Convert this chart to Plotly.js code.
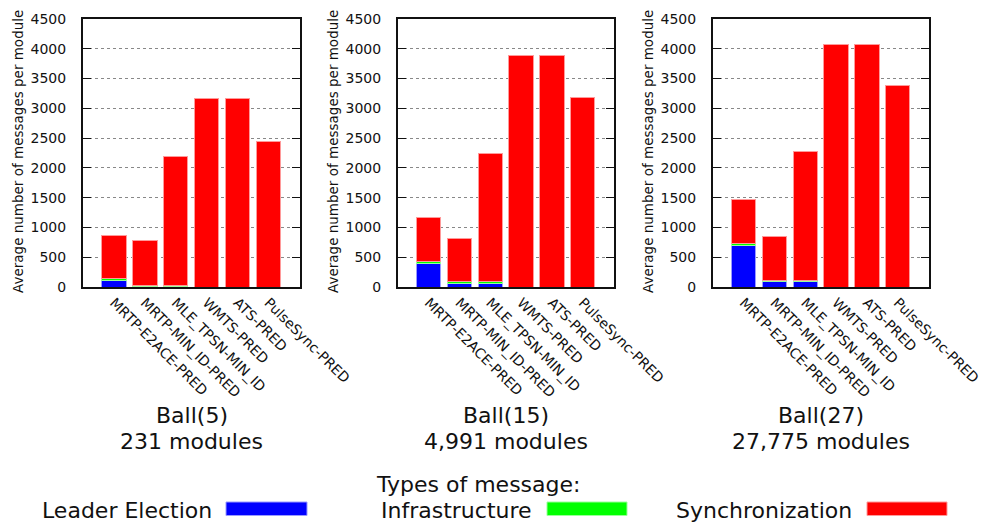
<!DOCTYPE html>
<html>
<head>
<meta charset="utf-8">
<script src="https://cdn.plot.ly/plotly-3.0.1.min.js"></script>
<style>
  html, body { margin: 0; padding: 0; background: #fff; }
  #chart { width: 983px; height: 526px; }
</style>
</head>
<body>
<div id="chart"></div>
<script>
// Protocols compared in every panel
const protocols = ["MRTP-E2ACE-PRED", "MRTP-MIN_ID-PRED", "MLE_TPSN-MIN_ID",
                   "WMTS-PRED", "ATS-PRED", "PulseSync-PRED"];

// Panel headings: topology and size
const ballNames = ["Ball(5)", "Ball(15)", "Ball(27)"];
const moduleCounts = ["231 modules", "4,991 modules", "27,775 modules"];

// Average number of messages per module, split by message type
const leaderBall5  = [117, 10, 10, 0, 0, 0];
const infraBall5   = [20, 12, 12, 0, 0, 0];
const syncBall5    = [728, 754, 2170, 3157, 3157, 2445];

const leaderBall15 = [395, 67, 67, 0, 0, 0];
const infraBall15  = [25, 20, 20, 0, 0, 0];
const syncBall15   = [747, 733, 2159, 3883, 3883, 3184];

const leaderBall27 = [700, 88, 88, 0, 0, 0];
const infraBall27  = [30, 22, 22, 0, 0, 0];
const syncBall27   = [743, 732, 2158, 4067, 4067, 3376];

const messageTypes = ["Leader Election", "Infrastructure", "Synchronization"];
const yTicks = [0, 500, 1000, 1500, 2000, 2500, 3000, 3500, 4000, 4500];

const W = 983, H = 526;
const FONT = "DejaVu Sans";
const TEXT = "#111";
const colors = ["#0000ff", "#00ff00", "#ff0000"];
const edges = ["#9a9aff", "#9aff9a", "#ff9a9a"];

const panels = [
  [leaderBall5, infraBall5, syncBall5],
  [leaderBall15, infraBall15, syncBall15],
  [leaderBall27, infraBall27, syncBall27]
];

// Pixel boxes of each plot area
const boxes = [[83, 300], [398, 614], [713, 929]];
const plotTop = 19, plotBottom = 287;

const px = v => v / W;
const py = v => 1 - v / H;

const traces = [];
panels.forEach((series, p) => {
  const sfx = p === 0 ? "" : String(p + 1);
  series.forEach((vals, s) => {
    traces.push({
      type: "bar",
      x: protocols,
      y: vals,
      name: messageTypes[s],
      xaxis: "x" + sfx,
      yaxis: "y" + sfx,
      width: 0.79,
      marker: { color: colors[s], line: { color: edges[s], width: 1 } },
      showlegend: false,
      hoverinfo: "x+y+name"
    });
  });
});

const layout = {
  width: W, height: H,
  margin: { l: 0, r: 0, t: 0, b: 0 },
  paper_bgcolor: "#fff",
  plot_bgcolor: "#fff",
  barmode: "stack",
  font: { family: FONT, color: TEXT, size: 14 },
  annotations: [],
  shapes: []
};

boxes.forEach((b, p) => {
  const sfx = p === 0 ? "" : String(p + 1);
  layout["xaxis" + sfx] = {
    domain: [px(b[0]), px(b[1])],
    anchor: "y" + sfx,
    type: "category",
    range: [-1, 6.02],
    showline: true, linecolor: "#111", linewidth: 2, mirror: true,
    ticks: "", showgrid: false, zeroline: false,
    tickangle: 45,
    tickfont: { family: FONT, size: 14, color: TEXT },
    automargin: false,
    fixedrange: true
  };
  layout["yaxis" + sfx] = {
    domain: [py(plotBottom), py(plotTop)],
    anchor: "x" + sfx,
    range: [0, 4500],
    tickvals: yTicks,
    ticktext: yTicks.map(String),
    showline: true, linecolor: "#111", linewidth: 2, mirror: "ticks",
    ticks: "inside", ticklen: 8, tickwidth: 1, tickcolor: "#111",
    ticklabelstandoff: 12,
    showgrid: true, gridcolor: "#888", griddash: "dot", gridwidth: 1,
    zeroline: false,
    tickfont: { family: FONT, size: 14, color: TEXT },
    automargin: false,
    fixedrange: true
  };

  const cx = (b[0] + b[1]) / 2;
  // y-axis title
  layout.annotations.push({
    xref: "paper", yref: "paper",
    x: px(b[0] - 65), y: py(152),
    text: "Average number of messages per module",
    textangle: -90, showarrow: false,
    xanchor: "center", yanchor: "middle",
    font: { family: FONT, size: 13.5, color: TEXT }
  });
  // panel heading below the rotated labels
  layout.annotations.push({
    xref: "paper", yref: "paper",
    x: px(cx), y: py(415),
    text: ballNames[p], showarrow: false,
    xanchor: "center", yanchor: "middle",
    font: { family: FONT, size: 22, color: TEXT }
  });
  layout.annotations.push({
    xref: "paper", yref: "paper",
    x: px(cx), y: py(441),
    text: moduleCounts[p], showarrow: false,
    xanchor: "center", yanchor: "middle",
    font: { family: FONT, size: 22, color: TEXT }
  });
});

// Key at the bottom: title, then label + colour swatch for each type
layout.annotations.push({
  xref: "paper", yref: "paper",
  x: px(478), y: py(484),
  text: "Types of message:", showarrow: false,
  xanchor: "center", yanchor: "middle",
  font: { family: FONT, size: 22, color: TEXT }
});
const keyTextRight = [214, 534, 854];
const keySwatch = [[226, 307], [547, 627], [867, 947]];
messageTypes.forEach((name, i) => {
  layout.annotations.push({
    xref: "paper", yref: "paper",
    x: px(keyTextRight[i]), y: py(510),
    text: name, showarrow: false,
    xanchor: "right", yanchor: "middle",
    font: { family: FONT, size: 22, color: TEXT }
  });
  layout.shapes.push({
    type: "rect", xref: "paper", yref: "paper",
    x0: px(keySwatch[i][0]), x1: px(keySwatch[i][1]),
    y0: py(515.5), y1: py(502),
    fillcolor: colors[i],
    line: { color: edges[i], width: 1 }
  });
});

Plotly.newPlot("chart", traces, layout, { displayModeBar: false, staticPlot: true });
</script>
</body>
</html>
